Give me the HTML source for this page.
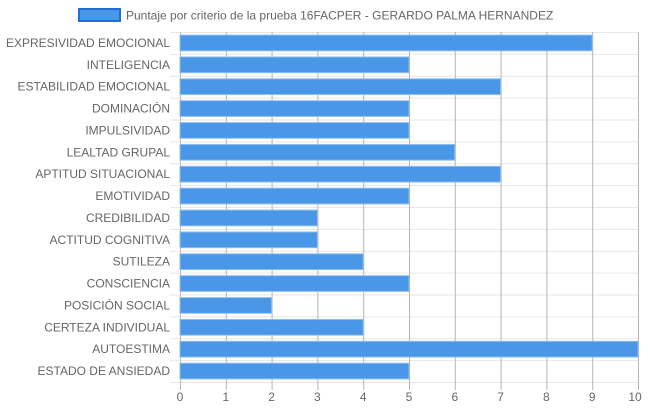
<!DOCTYPE html>
<html><head><meta charset="utf-8"><style>
body{margin:0;background:#fff;}
svg{display:block;font-family:"Liberation Sans",sans-serif;}
</style></head><body>
<svg id="c" width="648" height="410"></svg>
<script>
const categories=["EXPRESIVIDAD EMOCIONAL","INTELIGENCIA","ESTABILIDAD EMOCIONAL","DOMINACIÓN","IMPULSIVIDAD","LEALTAD GRUPAL","APTITUD SITUACIONAL","EMOTIVIDAD","CREDIBILIDAD","ACTITUD COGNITIVA","SUTILEZA","CONSCIENCIA","POSICIÓN SOCIAL","CERTEZA INDIVIDUAL","AUTOESTIMA","ESTADO DE ANSIEDAD"];
const values=[9,5,7,5,5,6,7,5,3,3,4,5,2,4,10,5];
const xTicks=[0,1,2,3,4,5,6,7,8,9,10];
const NS="http://www.w3.org/2000/svg";
const svg=document.getElementById('c');
const L=180,R=638,T=32,B=382,xmax=10;
const x=v=>L+(R-L)*v/xmax;
const band=(B-T)/categories.length;
const y=i=>T+band*i;
function mk(t,a,p){const e=document.createElementNS(NS,t);for(const k in a)e.setAttribute(k,a[k]);(p||svg).appendChild(e);return e;}
// horizontal grid
for(let i=0;i<=categories.length;i++){
  const g=mk('line',{x1:L-10,x2:R,y1:y(i)+0.5,y2:y(i)+0.5,stroke:'#e6e6e6'});
  
  
}
// vertical grid + ticks
xTicks.forEach(t=>{
  const g=mk('line',{x1:x(t)+0.5,x2:x(t)+0.5,y1:T,y2:B+8,stroke:t===0?'#bbb':'#b5b5b5'});
  
  
  const tx=mk('text',{x:x(t)-(t===10?3:0),y:B+19,'font-size':12,fill:'#666','text-anchor':'middle'});
  tx.textContent=t;
  
  
});
// bars
categories.forEach((c,i)=>{
  const h=band*0.72;
  const b=mk('rect',{x:L,y:y(i)+(band-h)/2,width:x(values[i])-L,height:h,fill:'#4a97e8',stroke:'#8fc0f2','stroke-width':1});
  
  
  const tl=mk('text',{x:L-10,y:y(i)+band/2+4,'font-size':12,fill:'#666','text-anchor':'end'});
  tl.textContent=c;
  
  
});
// legend
const lg=mk('g',{});


mk('rect',{x:79,y:9,width:41,height:12,fill:'#4a97e8',stroke:'#1f6fd0','stroke-width':2},lg);
const lt=mk('text',{x:126,y:19.5,'font-size':12,fill:'#666'},lg);
lt.textContent="Puntaje por criterio de la prueba 16FACPER - GERARDO PALMA HERNANDEZ";
</script>
</body></html>
